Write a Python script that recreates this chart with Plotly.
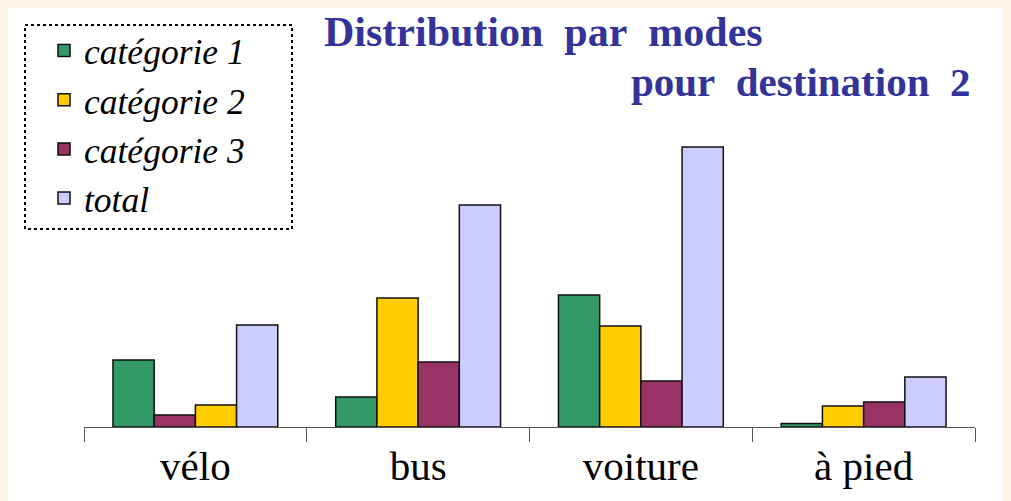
import plotly.graph_objects as go

# ---- data ----
categories = ["vélo", "bus", "voiture", "à pied"]
series_names = ["catégorie 1", "catégorie 2", "catégorie 3", "total"]
cat1 = [67, 30, 132, 3.5]
cat2 = [22, 129, 101, 21]
cat3 = [12, 65, 46, 25]
total = [102, 222, 280, 50]
# order in which the series appear inside each group (as in the original)
group_order = [[0, 2, 1, 3], [0, 1, 2, 3], [0, 1, 2, 3], [0, 1, 2, 3]]

colors = ["#339966", "#FFCC00", "#993366", "#CCCCFF"]
values = [cat1, cat2, cat3, total]

OFF = 8  # page body margin
W, H = 1011 - OFF, 501 - OFF
L, R, T, B = 84 - OFF, 36, 100 - OFF, 74
pw, ph = W - L - R, H - T - B


def px(x):  # screen pixel -> paper x
    return (x - OFF - L) / pw


def py(y):  # screen pixel -> paper y
    return (H - B - (y - OFF)) / ph


SERIF = "Liberation Serif, Times New Roman, serif"

fig = go.Figure()

for pos in range(4):
    ys = [values[group_order[m][pos]][m] for m in range(len(categories))]
    cs = [colors[group_order[m][pos]] for m in range(len(categories))]
    fig.add_trace(go.Bar(
        x=categories, y=ys, marker=dict(color=cs, line=dict(color="#111111", width=1.5)),
        showlegend=False, hoverinfo="x+y",
    ))

# legend entries (on hidden axes so they do not take bar slots)
for i, name in enumerate(series_names):
    fig.add_trace(go.Bar(
        x=[None], y=[None], name="<i>" + name + "</i>", xaxis="x2", yaxis="y2",
        marker=dict(color=colors[i], line=dict(color="#111111", width=1.5)),
        legendgroup=name,
    ))

fig.update_layout(
    width=W, height=H,
    margin=dict(l=L, r=R, t=T, b=B, pad=0),
    paper_bgcolor="white",
    plot_bgcolor="rgba(0,0,0,0)",
    barmode="group",
    bargap=0.26,
    bargroupgap=0,
    font=dict(family=SERIF, color="black"),
    xaxis=dict(
        type="category", range=[-0.5, 3.5], tickson="boundaries",
        ticks="outside", ticklen=14, tickcolor="#555555", tickwidth=1,
        showline=True, linecolor="#555555", linewidth=1,
        showgrid=False, zeroline=False, ticklabelstandoff=3,
        tickfont=dict(size=41, family=SERIF, color="black"),
    ),
    yaxis=dict(range=[0, ph], visible=False, showgrid=False, zeroline=False),
    xaxis2=dict(visible=False, overlaying="x", range=[0, 1]),
    yaxis2=dict(visible=False, overlaying="y", range=[0, 1]),
    legend=dict(
        x=px(44), y=py(21), xanchor="left", yanchor="top",
        bgcolor="rgba(255,255,255,0)", borderwidth=0,
        font=dict(size=35.5, family=SERIF, color="black"),
        traceorder="grouped", tracegroupgap=0,
        itemclick=False, itemdoubleclick=False,
    ),
    showlegend=True,
    shapes=[
        dict(type="rect", xref="paper", yref="paper",
             x0=px(25), x1=px(292), y0=py(25), y1=py(229),
             line=dict(color="black", width=2, dash="dot")),
    ],
    annotations=[
        dict(text="Distribution\u00a0 par\u00a0 modes", xref="paper", yref="paper",
             x=px(322), y=py(32), xanchor="left", yanchor="middle", showarrow=False,
             font=dict(size=42, color="#333399", family=SERIF, weight="bold")),
        dict(text="pour\u00a0 destination\u00a0 2", xref="paper", yref="paper",
             x=px(972), y=py(82), xanchor="right", yanchor="middle", showarrow=False,
             font=dict(size=41, color="#333399", family=SERIF, weight="bold")),
    ],
)

fig.write_html(
    "out.html",
    post_script="document.body.style.background='#FFF5E8';",
)
